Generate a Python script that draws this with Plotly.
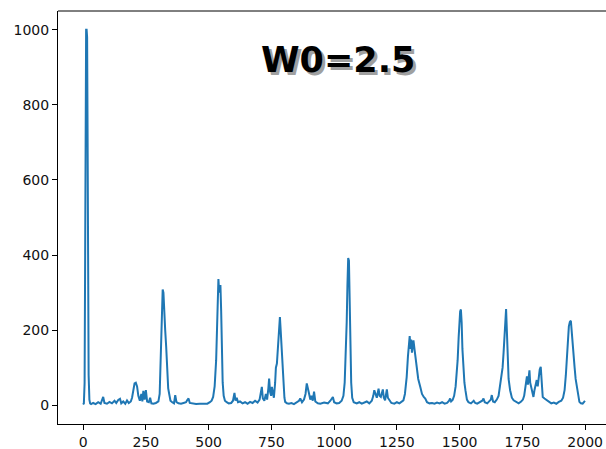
import plotly.graph_objects as go

# Values (sample index, intensity)
x_vals = [0, 3, 6, 8, 10, 12, 14, 16, 18, 20, 22, 25, 28, 32,
          40, 50, 60, 70, 76, 80, 85, 95, 105, 115, 125, 132, 140, 147, 152, 160, 168, 175, 182, 190,
          195, 200, 205, 210, 215, 220, 226, 232, 236, 240, 245, 250, 255, 262, 267, 272, 280, 290, 300,
          305, 309, 313, 317, 320, 323, 327, 331, 335, 339, 343, 348, 355, 362, 367, 372, 380, 390, 400,
          410, 415, 420, 425, 435, 450, 465, 480, 495, 505, 512,
          518, 524, 530, 535, 539, 542, 544, 547, 550, 553, 556, 560, 565, 572, 580, 590, 597, 603, 607,
          612, 617, 625, 635, 645, 655, 665, 675, 685, 695, 703, 708, 712, 716, 722, 728, 733, 738, 741,
          745, 749, 752, 756, 760, 765, 768, 772, 775, 778, 781, 784, 787, 791, 795, 798, 802, 805, 812,
          820, 830, 840, 850, 860, 865, 872, 880, 886, 891, 895, 900, 905, 910, 915, 920, 925, 935, 945,
          960, 975, 985, 995, 1000, 1010, 1020, 1030,
          1037, 1042, 1046, 1050, 1053, 1056, 1059, 1062, 1065, 1068, 1072, 1078, 1090, 1100, 1110, 1120,
          1130, 1140, 1150, 1156, 1160, 1165, 1170, 1177, 1181, 1186, 1190, 1194, 1198, 1203, 1207, 1210,
          1214, 1220, 1228, 1240, 1250, 1260, 1270, 1276, 1282, 1289, 1294, 1298, 1301, 1304, 1307, 1310,
          1313, 1316, 1320, 1324, 1329, 1335, 1343, 1350, 1357, 1363, 1370, 1380, 1390, 1400, 1410, 1420,
          1430, 1440, 1450, 1458, 1462, 1466, 1472, 1478, 1484, 1488, 1492, 1496, 1499, 1502, 1505, 1508,
          1511, 1515, 1519, 1523, 1529, 1535, 1545, 1556, 1562, 1570, 1580, 1590, 1595, 1600, 1610, 1618,
          1624, 1628, 1633, 1640, 1648, 1655, 1661, 1666, 1671, 1675, 1679, 1682, 1685, 1688, 1691, 1695,
          1701, 1708, 1715, 1725, 1735, 1745, 1752, 1757, 1761, 1765, 1768, 1772, 1775, 1778, 1781, 1785,
          1788, 1791, 1794, 1798, 1802, 1807, 1811, 1815, 1819, 1823, 1826, 1831, 1838, 1847, 1855, 1865,
          1875, 1885, 1895, 1905, 1912, 1918, 1923, 1927, 1931, 1935, 1939, 1943, 1946, 1950, 1954, 1958,
          1962, 1967, 1972, 1977, 1983, 1990, 1995, 1999]
y_vals = [2, 5, 60, 400, 850, 1000, 1000, 980, 700, 300, 80, 15, 5, 3,
          6, 3, 8, 4, 15, 22, 6, 4, 9, 5, 12, 6, 14, 17, 5, 10, 4, 13, 6, 10,
          20, 45, 58, 60, 50, 25, 12, 30, 10, 38, 15, 40, 10, 8, 20, 5, 4, 6, 10,
          30, 120, 250, 308, 300, 240, 200, 155, 80, 45, 30, 12, 8, 5, 27, 8, 5, 4, 6,
          8, 14, 18, 6, 4, 3, 4, 3, 4, 8, 12,
          22, 50, 120, 220, 336, 300, 309, 320, 250, 130, 60, 25, 12, 8, 5, 6, 12, 33, 12,
          20, 8, 10, 5, 8, 4, 9, 6, 12, 7, 15, 30, 49, 18, 12, 30, 15, 45, 71,
          35, 25, 49, 30, 20, 60, 100, 111, 150, 173, 220, 235, 200, 150, 93, 60, 20, 9, 5,
          4, 6, 3, 8, 12, 18, 8, 15, 30, 58, 40, 31, 15, 25, 12, 36, 10, 5, 4,
          7, 5, 12, 22, 8, 5, 6, 12,
          25, 60, 120, 220, 320, 392, 385, 280, 150, 60, 20, 8, 5, 8, 4, 6,
          10, 5, 12, 25, 40, 30, 20, 44, 25, 22, 35, 42, 20, 13, 30, 42,
          20, 13, 6, 4, 8, 5, 10, 13, 30, 75, 130, 170, 184, 150, 175, 140,
          165, 173, 150, 125, 102, 70, 49, 30, 22, 18, 8, 5, 6, 4, 7, 5,
          8, 4, 6, 12, 18, 10, 14, 25, 50, 80, 120, 180, 230, 250, 255, 220,
          150, 100, 60, 40, 15, 8, 5, 12, 6, 4, 8, 12, 18, 8, 5, 10,
          15, 27, 10, 8, 15, 25, 49, 70, 100, 140, 200, 250, 256, 200, 130, 70,
          40, 20, 13, 8, 5, 10, 15, 25, 40, 60, 77, 55, 80, 93, 60, 45,
          40, 30, 22, 40, 55, 67, 50, 80, 95, 102, 60, 22, 18, 13, 8, 5,
          7, 4, 9, 12, 20, 40, 80, 129, 180, 210, 222, 225, 200, 160, 129, 100,
          70, 49, 25, 9, 5, 4, 8, 12]

x_ticks = [0, 250, 500, 750, 1000, 1250, 1500, 1750, 2000]
y_ticks = [0, 200, 400, 600, 800, 1000]
label_text = "W0=2.5"

fig = go.Figure()
fig.add_trace(go.Scatter(x=x_vals, y=y_vals, mode="lines",
                         line=dict(color="#1f77b4", width=2), showlegend=False))

axis_common = dict(showgrid=False, zeroline=False, showline=True, linecolor="black",
                   linewidth=1, ticks="outside", ticklen=5, tickcolor="black", tickwidth=1,
                   tickfont=dict(family="DejaVu Sans", size=14, color="#111"))

fig.update_xaxes(range=[-100, 2083], tickvals=x_ticks, **axis_common)
fig.update_yaxes(range=[-50, 1050], tickvals=y_ticks, **axis_common)

fig.add_shape(type="line", xref="paper", yref="paper", x0=0, x1=1, y0=1, y1=1,
              line=dict(color="black", width=1))

# shadow then text
fig.add_annotation(text=label_text, xref="paper", yref="paper", x=0.511, y=0.934,
                   showarrow=False, xshift=2.5, yshift=-2.5,
                   font=dict(family="DejaVu Sans", size=35, color="#a0a0a0", weight="bold"))
fig.add_annotation(text=label_text, xref="paper", yref="paper", x=0.511, y=0.934,
                   showarrow=False,
                   font=dict(family="DejaVu Sans", size=35, color="black", weight="bold"))

fig.update_layout(width=606, height=449, margin=dict(l=58, r=0, t=11, b=25),
                  paper_bgcolor="white", plot_bgcolor="white")

fig.write_html("out.html")
